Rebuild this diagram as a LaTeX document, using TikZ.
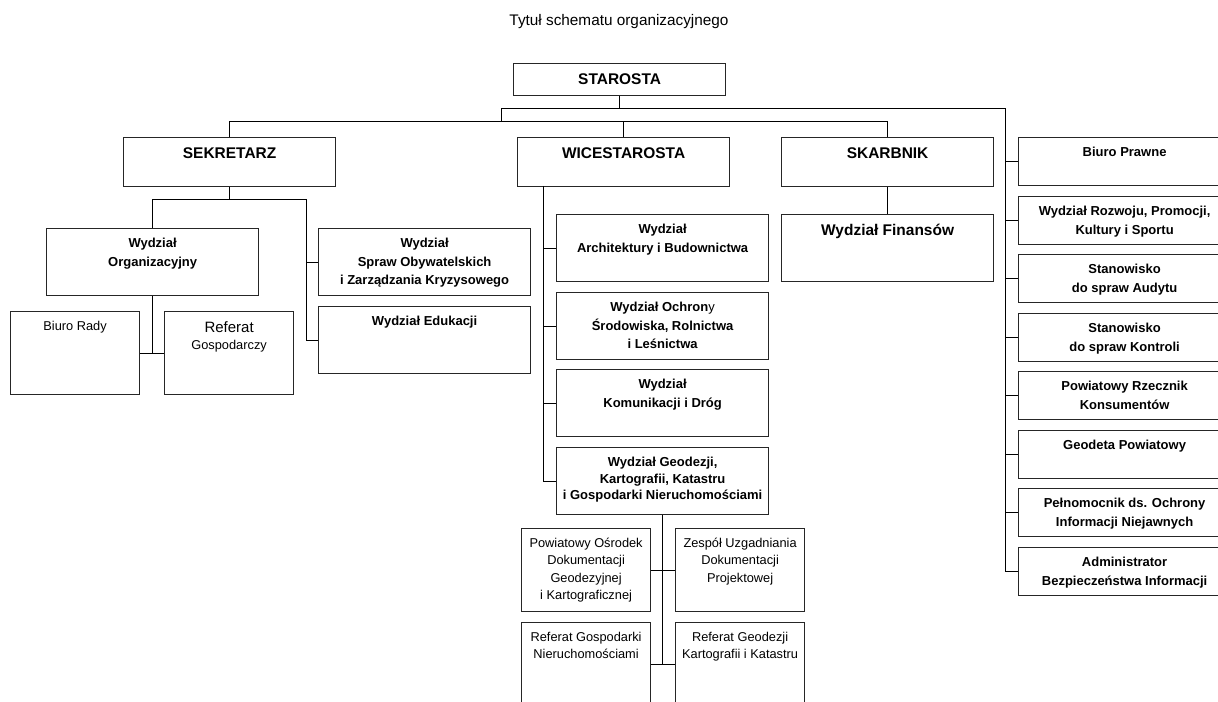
\documentclass[tikz,border=0pt]{standalone}
\usepackage{fontspec}
\setmainfont{Liberation Sans}
\newcommand\orghead{\fontsize{11.6pt}{14pt}\selectfont\bfseries}
\newcommand\orgunit{\fontsize{9.75pt}{13.9pt}\selectfont\bfseries}
\newcommand\orgplain{\fontsize{9.6pt}{12.9pt}\selectfont}

\begin{document}
\begin{tikzpicture}[x=0.75pt,y=-0.75pt,
  box/.style={draw=black!85,line width=0.9pt,anchor=north west,inner sep=0pt},
  lead/.style={box,minimum width=159pt,minimum height=36.75pt},
  unit/.style={box,minimum width=159pt,minimum height=50.25pt},
  side/.style={box,minimum width=159pt,minimum height=36pt},
  cell/.style={box,minimum width=96.75pt,minimum height=62.25pt},
  lbl/.style={anchor=north,align=center,inner xsep=0pt,inner ysep=7.5pt},
  ht/.style={label={[lbl,font=\orghead]north:#1}},
  bt/.style={label={[lbl,font=\orgunit]north:#1}},
  rt/.style={label={[lbl,font=\orgplain]north:#1}},
  link/.style={line width=0.75pt}]
  \useasboundingbox (0,0) rectangle (1218,702);
  \clip (0,0) rectangle (1218,702);

  \node[font=\fontsize{11.5pt}{14pt}\selectfont] (title) at (619,22) {Tytuł schematu organizacyjnego};

  \node[box,minimum width=159pt,minimum height=24pt,ht=STAROSTA] (star) at (513,63) {};
  \node[lead,ht=SEKRETARZ] (sek) at (123,137) {};
  \node[lead,ht=WICESTAROSTA] (wice) at (517,137) {};
  \node[lead,ht=SKARBNIK] (skarb) at (781,137) {};

  \node[unit,bt={Wydział\\Organizacyjny}] (org) at (46,228) {};
  \node[unit,bt={Wydział\\Spraw Obywatelskich\\i Zarządzania Kryzysowego}] (spraw) at (318,228) {};
  \node[unit,bt={Wydział Edukacji}] (edu) at (318,306) {};
  \node[cell,rt={Biuro Rady}] (biuro) at (10,311) {};
  \node[cell,rt={{\fontsize{11.25pt}{14pt}\selectfont Referat}\\Gospodarczy}] (refg) at (164,311) {};

  \node[unit,bt={Wydział\\Architektury i Budownictwa}] (arch) at (556,214) {};
  \node[unit,bt={Wydział Ochron\textmd{y}\\Środowiska, Rolnictwa\\i Leśnictwa}] (ochr) at (556,292) {};
  \node[unit,bt={Wydział\\Komunikacji i Dróg}] (kom) at (556,369) {};
  \node[unit,bt={Wydział Geodezji,\\[-1.5pt]Kartografii, Katastru\\[-1.5pt]i Gospodarki Nieruchomościami}] (geo) at (556,447) {};
  \node[cell,rt={Powiatowy Ośrodek\\Dokumentacji\\Geodezyjnej\\i Kartograficznej}] (podgik) at (521,528) {};
  \node[cell,rt={Zespół Uzgadniania\\Dokumentacji\\Projektowej}] (zud) at (675,528) {};
  \node[cell,rt={Referat Gospodarki\\Nieruchomościami}] (rgn) at (521,622) {};
  \node[cell,rt={Referat Geodezji\\Kartografii i Katastru}] (rgk) at (675,622) {};

  \node[unit,ht={Wydział Finansów}] (fin) at (781,214) {};

  \node[side,bt={Biuro Prawne}] (bp) at (1018,137) {};
  \node[side,bt={Wydział Rozwoju, Promocji,\\Kultury i Sportu}] (roz) at (1018,196) {};
  \node[side,bt={Stanowisko\\do spraw Audytu}] (aud) at (1018,254) {};
  \node[side,bt={Stanowisko\\do spraw Kontroli}] (kon) at (1018,313) {};
  \node[side,bt={Powiatowy Rzecznik\\Konsumentów}] (rzk) at (1018,371) {};
  \node[side,bt={Geodeta Powiatowy}] (gp) at (1018,430) {};
  \node[side,bt={Pełnomocnik ds. Ochrony\\Informacji Niejawnych}] (pel) at (1018,488) {};
  \node[side,bt={Administrator\\Bezpieczeństwa Informacji}] (abi) at (1018,547) {};

  \coordinate (jn) at (501,109);
  \coordinate (jn2) at (501,122);
  \coordinate (rtop) at (1005,109);
  \coordinate (sbus) at (306,200);
  \coordinate (wbus) at (543,186);

  \draw[link] (star.south) -- (star.south |- rtop);
  \draw[link] (jn) -- (rtop) |- (abi.west);
  \draw[link] (jn) -- (jn2) -| (sek.north);
  \draw[link] (jn2) -| (skarb.north);
  \draw[link] (wice.north) -- (wice.north |- jn2);
  \draw[link] (rtop |- bp.west) -- (bp.west);
  \draw[link] (rtop |- roz.west) -- (roz.west);
  \draw[link] (rtop |- aud.west) -- (aud.west);
  \draw[link] (rtop |- kon.west) -- (kon.west);
  \draw[link] (rtop |- rzk.west) -- (rzk.west);
  \draw[link] (rtop |- gp.west) -- (gp.west);
  \draw[link] (rtop |- pel.west) -- (pel.west);

  \draw[link] (sek.south) -- (sek.south |- sbus);
  \draw[link] (org.north) |- (sbus) |- (edu.west);
  \draw[link] (sbus |- spraw.west) -- (spraw.west);
  \draw[link] (org.south) |- (biuro.east);
  \draw[link] (org.south |- refg.west) -- (refg.west);

  \draw[link] (wbus) |- (geo.west);
  \draw[link] (wbus |- arch.west) -- (arch.west);
  \draw[link] (wbus |- ochr.west) -- (ochr.west);
  \draw[link] (wbus |- kom.west) -- (kom.west);
  \draw[link] (geo.south) |- (rgk.west);
  \draw[link] (rgn.east) -- (rgk.west);
  \draw[link] (podgik.east) -- (zud.west);
  \draw[link] (skarb.south) -- (fin.north);
\end{tikzpicture}
\end{document}
